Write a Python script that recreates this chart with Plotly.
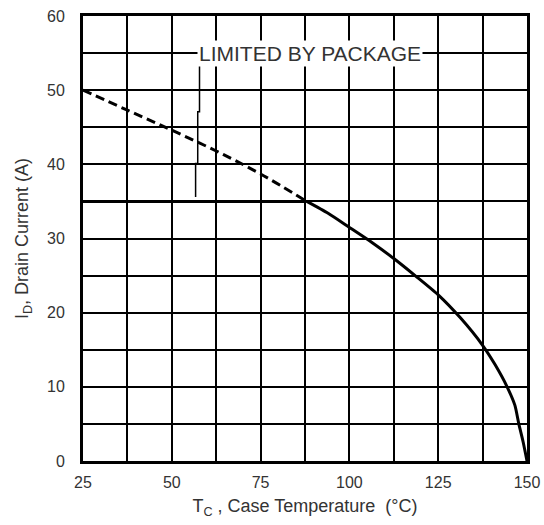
import plotly.graph_objects as go

# Package-limited (dashed) portion of the thermal curve
dash_t = [25, 37.5, 50, 62.5, 75, 88]
dash_i = [50, 47.3, 44.6, 41.8, 38.7, 35]

# Package limit (flat)
pkg_t = [25, 88]
pkg_i = [35, 35]

# Thermally limited curve
curve_t = [88, 94, 100, 106.25, 112.5, 118.75, 125, 131.25, 137.5, 141, 144.4, 146.6, 147.7, 148.9, 150]
curve_i = [35, 33.4, 31.5, 29.5, 27.3, 24.9, 22.4, 19.3, 15.6, 13.0, 10.0, 7.5, 5.0, 2.6, 0]

# Leader line from the label to the curve
lead_t = [57.8, 57.8, 57.3, 57.3, 56.7, 56.7]
lead_i = [53.4, 47.1, 47.1, 40.1, 40.1, 35.6]

x_ticks = [25, 50, 75, 100, 125, 150]
y_ticks = [0, 10, 20, 30, 40, 50, 60]

label_text = "LIMITED BY PACKAGE"
label_pos = (89, 55)

font_family = "Liberation Sans, Arial, sans-serif"

fig = go.Figure()
fig.add_trace(go.Scatter(x=dash_t, y=dash_i, mode="lines", line=dict(color="black", width=3, dash="9px,5px", shape="spline"), hoverinfo="skip"))
fig.add_trace(go.Scatter(x=pkg_t, y=pkg_i, mode="lines", line=dict(color="black", width=3), hoverinfo="skip"))
fig.add_trace(go.Scatter(x=curve_t, y=curve_i, mode="lines", line=dict(color="black", width=3, shape="spline", smoothing=0.6), hoverinfo="skip"))
fig.add_trace(go.Scatter(x=lead_t, y=lead_i, mode="lines", line=dict(color="black", width=1.5), hoverinfo="skip"))

fig.add_annotation(x=label_pos[0], y=label_pos[1], xref="x", yref="y", text=label_text, showarrow=False,
                   font=dict(family=font_family, size=21, color="#333333"), bgcolor="white", borderpad=1)

fig.update_layout(
    width=544, height=525,
    margin=dict(l=83, r=17, t=16, b=64),
    paper_bgcolor="white", plot_bgcolor="white",
    showlegend=False,
    font=dict(family=font_family, color="#333333"),
)
fig.update_xaxes(range=[25, 150], tickvals=x_ticks, showgrid=True, gridcolor="black", gridwidth=1.5,
                 minor=dict(dtick=12.5, tick0=25, showgrid=True, gridcolor="black", gridwidth=1.5),
                 showline=True, linecolor="black", linewidth=3, mirror=True, zeroline=False, automargin=False,
                 tickfont=dict(size=16), ticklabelstandoff=5, ticklabeloverflow="allow",
                 title=dict(text="T<sub>C</sub> , Case Temperature  (°C)", font=dict(size=18), standoff=10))
fig.update_yaxes(range=[0, 60], tickvals=y_ticks, showgrid=True, gridcolor="black", gridwidth=1.5,
                 minor=dict(dtick=5, tick0=0, showgrid=True, gridcolor="black", gridwidth=1.5),
                 showline=True, linecolor="black", linewidth=3, mirror=True, zeroline=False, automargin=False,
                 tickfont=dict(size=16), ticklabelstandoff=12, ticklabeloverflow="allow",
                 title=dict(text="I<sub>D</sub>, Drain Current (A)", font=dict(size=18), standoff=14))

# remove the default 8px page margin so the figure fills the window exactly
fig.write_html("out.html", config={"displayModeBar": False},
               post_script="document.body.style.margin='0';document.body.style.overflow='hidden';")
